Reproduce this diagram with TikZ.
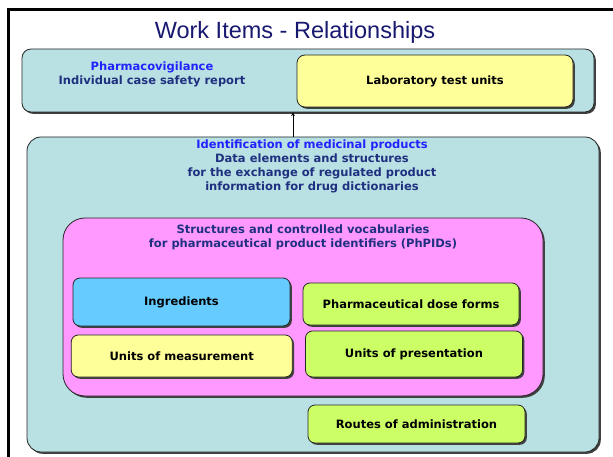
\documentclass[tikz,border=0pt]{standalone}
\usepackage{fontspec}
\newfontfamily\verdfont{DejaVu Sans}
\newfontfamily\arialfont{Liberation Sans}
\usetikzlibrary{positioning, arrows, shadows}
\definecolor{panelteal}{RGB}{185,224,226}
\definecolor{itemyellow}{RGB}{255,255,153}
\definecolor{itempink}{RGB}{255,153,255}
\definecolor{itemblue}{RGB}{102,204,255}
\definecolor{itemgreen}{RGB}{204,255,102}
\definecolor{textblue}{RGB}{34,34,255}
\definecolor{textnavy}{RGB}{31,48,128}
\definecolor{titlenavy}{RGB}{24,24,112}
\tikzset{
	>=stealth, % puntas de flecha rellenas
	boxshadow/.style={drop shadow={shadow xshift=1.8pt, shadow yshift=-1.8pt, fill=black!75, opacity=1}}, % sombra de las cajas
	panel/.style={draw=black!85, line width=0.8pt, fill=panelteal, rounded corners=12pt, boxshadow}, % contenedores
	item/.style={draw=black!85, line width=0.8pt, rounded corners=7pt, boxshadow, font=\verdfont\bfseries\fontsize{11.5}{14}\selectfont, text=black}, % cajas de los elementos
	caption/.style={align=center, font=\verdfont\bfseries\fontsize{11.5}{14}\selectfont, text=textnavy} % textos de los contenedores
}

\begin{document}
\begin{tikzpicture}[x=1pt, y=-1pt]
	\useasboundingbox[fill=white] (0,0) rectangle (613,457);
	\draw[line width=2.6pt] (8.5,470) -- (8.5,9.7) -- (630,9.7);
	\node[font=\arialfont\fontsize{23.5}{26}\selectfont, text=titlenavy] (title) at (295,32) {Work Items - Relationships};

	\node[panel, minimum width=572pt, minimum height=63pt, rounded corners=9pt] (icsr) at (308,80.5) {};
	\node[item, fill=itemyellow, minimum width=276pt, minimum height=52pt, rounded corners=8pt] (lab) at (435,81) {Laboratory test units};
	\node[caption] (icsrtext) at (152,74) {\textcolor{textblue}{Pharmacovigilance}\\Individual case safety report};

	\node[panel, minimum width=572pt, minimum height=315pt, rounded corners=14pt] (idmp) at (313,294.5) {};
	\node[caption] (idmptext) at (312,166.5) {\textcolor{textblue}{Identification of medicinal products}\\Data elements and structures\\for the exchange of regulated product\\information for drug dictionaries};

	\node[item, fill=itempink, minimum width=480pt, minimum height=178pt, rounded corners=22pt] (phpid) at (303,307) {};
	\node[caption] (phpidtext) at (303,237) {Structures and controlled vocabularies\\for pharmaceutical product identifiers (PhPIDs)};

	\node[item, fill=itemblue, minimum width=217pt, minimum height=48pt] (ingr) at (181.5,302) {Ingredients};
	\node[item, fill=itemgreen, minimum width=216pt, minimum height=42pt] (dose) at (411,304) {Pharmaceutical dose forms};
	\node[item, fill=itemyellow, minimum width=221pt, minimum height=42pt] (meas) at (181.75,356) {Units of measurement};
	\node[item, fill=itemgreen, minimum width=217pt, minimum height=46pt] (pres) at (414,354) {Units of presentation};
	\node[item, fill=itemgreen, minimum width=217pt, minimum height=38pt] (route) at (416.5,424) {Routes of administration};

	\draw[->, line width=0.7pt] ([xshift=-20pt]idmp.north) -- ([xshift=-20pt]idmp.north |- icsr.south);
\end{tikzpicture}
\end{document}
